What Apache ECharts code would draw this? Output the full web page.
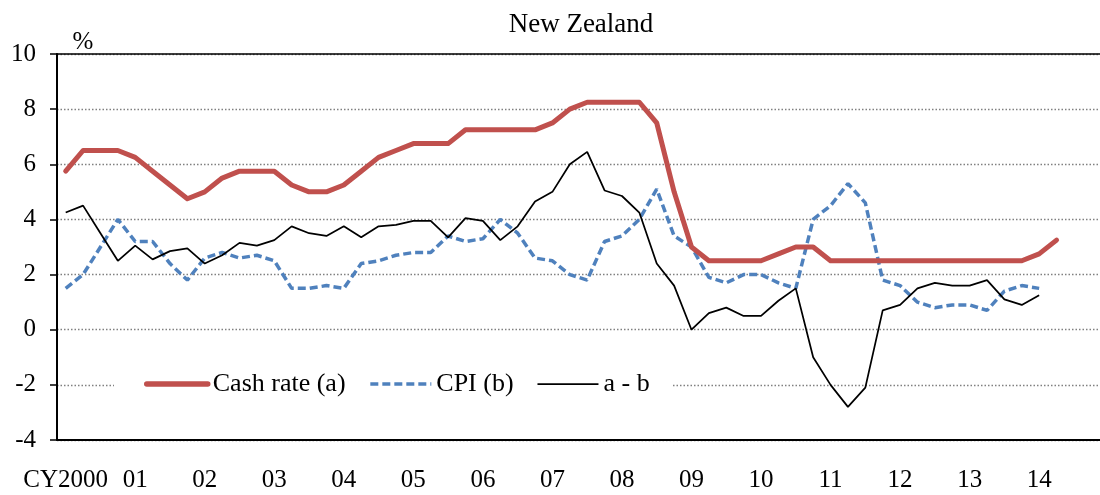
<!DOCTYPE html>
<html>
<head>
<meta charset="utf-8">
<script src="https://cdn.jsdelivr.net/npm/echarts@6/dist/echarts.min.js"></script>
<style>
html,body{margin:0;padding:0;background:#fff;}
#chart{width:1100px;height:495px;}
</style>
</head>
<body>
<div id="chart"></div>
<script>
// Year tick labels (label sits on the first quarter of each year)
var yearLabels = ['CY2000','01','02','03','04','05','06','07','08','09','10','11','12','13','14'];
var quartersPerYear = ['Q1','Q2','Q3','Q4'];

// Cash rate (a), quarterly, 2000Q1 - 2014Q2
var cashRate = [5.75,6.5,6.5,6.5, 6.25,5.75,5.25,4.75, 5.0,5.5,5.75,5.75, 5.75,5.25,5.0,5.0,
  5.25,5.75,6.25,6.5, 6.75,6.75,6.75,7.25, 7.25,7.25,7.25,7.25, 7.5,8.0,8.25,8.25,
  8.25,8.25,7.5,5.0, 3.0,2.5,2.5,2.5, 2.5,2.75,3.0,3.0, 2.5,2.5,2.5,2.5,
  2.5,2.5,2.5,2.5, 2.5,2.5,2.5,2.5, 2.75,3.25];

// CPI (b), quarterly, 2000Q1 - 2014Q1
var cpi = [1.5,2.0,3.0,4.0, 3.2,3.2,2.4,1.8, 2.6,2.8,2.6,2.7, 2.5,1.5,1.5,1.6,
  1.5,2.4,2.5,2.7, 2.8,2.8,3.4,3.2, 3.3,4.0,3.5,2.6, 2.5,2.0,1.8,3.2,
  3.4,4.0,5.1,3.4, 3.0,1.9,1.7,2.0, 2.0,1.7,1.5,4.0, 4.5,5.3,4.6,1.8,
  1.6,1.0,0.8,0.9, 0.9,0.7,1.4,1.6, 1.5];

// a - b, quarterly, 2000Q1 - 2014Q1
var aMinusB = [4.25,4.5,3.5,2.5, 3.05,2.55,2.85,2.95, 2.4,2.7,3.15,3.05, 3.25,3.75,3.5,3.4,
  3.75,3.35,3.75,3.8, 3.95,3.95,3.35,4.05, 3.95,3.25,3.75,4.65, 5.0,6.0,6.45,5.05,
  4.85,4.25,2.4,1.6, 0.0,0.6,0.8,0.5, 0.5,1.05,1.5,-1.0, -2.0,-2.8,-2.1,0.7,
  0.9,1.5,1.7,1.6, 1.6,1.8,1.1,0.9, 1.25];

var yTicks = {min: -4, max: 10, interval: 2};

// quarterly categories built from the year labels
var categories = [];
yearLabels.forEach(function (y, yi) {
  quartersPerYear.forEach(function (q) { categories.push((2000 + yi) + q); });
});

var FONT = '"Liberation Serif", "Times New Roman", serif';
var RED = '#C0504D', BLUE = '#4F81BD';

var chart = echarts.init(document.getElementById('chart'), null, {renderer: 'canvas'});
chart.setOption({
  animation: false,
  backgroundColor: '#fff',
  grid: {left: 57, top: 54, width: 1050, height: 386, containLabel: false},
  graphic: [
    {type: 'text', x: 581, y: 25, style: {text: 'New Zealand', align: 'center', verticalAlign: 'middle', fill: '#000', font: '27px ' + FONT}},
    {type: 'text', x: 83, y: 42, style: {text: '%', align: 'center', verticalAlign: 'middle', fill: '#000', font: '25px ' + FONT}}
  ],
  legend: {
    left: 114, top: 366,
    padding: [5, 23, 5, 30],
    backgroundColor: '#fff',
    itemWidth: 61, itemHeight: 14, itemGap: 23,
    textStyle: {fontFamily: FONT, fontSize: 26, color: '#000'},
    itemStyle: {opacity: 0},
    data: [
      {name: 'Cash rate (a)', itemStyle: {opacity: 0}, lineStyle: {width: 5.5, color: RED, cap: 'round'}},
      {name: 'CPI (b)', itemStyle: {opacity: 0}, lineStyle: {width: 3.5, color: BLUE, type: [8, 4]}},
      {name: 'a - b', itemStyle: {opacity: 0}, lineStyle: {width: 1.75, color: '#000'}}
    ]
  },
  xAxis: [{
    type: 'category', data: categories, boundaryGap: true,
    axisLine: {onZero: false, lineStyle: {color: '#000', width: 2}},
    axisTick: {interval: 3, length: 8, lineStyle: {color: '#000', width: 1.5}},
    axisLabel: {
      interval: 3, margin: 28, color: '#000', fontFamily: FONT, fontSize: 25,
      formatter: function (v, i) { return yearLabels[Math.floor(i / 4)]; }
    },
    splitLine: {show: false}
  }, {
    type: 'category', data: categories, position: 'top', boundaryGap: true,
    axisLine: {show: true, onZero: false, lineStyle: {color: '#000', width: 1.5}},
    axisTick: {show: false}, axisLabel: {show: false}, splitLine: {show: false}
  }],
  yAxis: {
    type: 'value', min: yTicks.min, max: yTicks.max, interval: yTicks.interval,
    axisLine: {show: true, lineStyle: {color: '#000', width: 2}},
    axisTick: {show: true, length: 7, lineStyle: {color: '#000', width: 1.5}},
    axisLabel: {margin: 21, color: '#000', fontFamily: FONT, fontSize: 25},
    splitLine: {show: true, lineStyle: {color: '#808080', width: 1.3, type: [1.5, 2]}}
  },
  series: [
    {name: 'Cash rate (a)', type: 'line', data: cashRate, symbol: 'none', z: 3,
      lineStyle: {color: RED, width: 5, cap: 'round', join: 'round'}, itemStyle: {color: RED}},
    {name: 'CPI (b)', type: 'line', data: cpi, symbol: 'none', z: 2,
      lineStyle: {color: BLUE, width: 3.5, type: [8, 4]}, itemStyle: {color: BLUE}},
    {name: 'a - b', type: 'line', data: aMinusB, symbol: 'none', z: 4,
      lineStyle: {color: '#000', width: 1.75}, itemStyle: {color: '#000'}}
  ]
});
</script>
</body>
</html>
